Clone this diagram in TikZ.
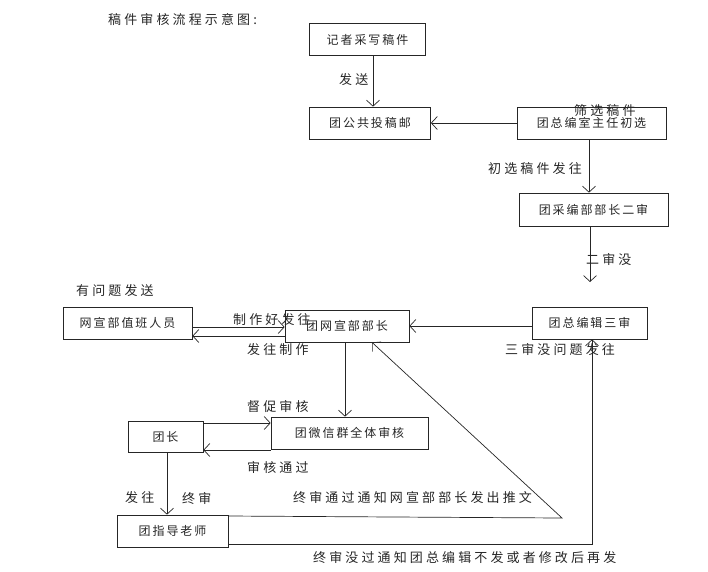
\documentclass[tikz,border=0pt]{standalone}
\usepackage{fontspec}
\newfontfamily\cjkbox[LetterSpace=16]{Noto Sans CJK SC}
\newfontfamily\cjklbl[LetterSpace=24]{Noto Sans CJK SC}
\usetikzlibrary{arrows.meta, positioning}
\def\boxfont{\cjkbox\fontsize{12}{14}\selectfont}
\def\lblfont{\cjklbl\fontsize{13}{15}\selectfont}

\tikzset{
  blk/.style={draw=black!85, line width=0.7pt, inner sep=0pt, text=black!85, font=\boxfont},
  lbl/.style={inner sep=0pt, anchor=west, text=black!85, font=\lblfont},
  arr/.style={-{Straight Barb[length=6pt,width=13pt]}, draw=black!85, line width=0.7pt},
  ln/.style={draw=black!85, line width=0.7pt},
}

\begin{document}
\begin{tikzpicture}[x=1pt, y=-1pt]
  \useasboundingbox (0,0) rectangle (708,571);
  % boxes
  \node[blk, minimum width=116pt, minimum height=32pt] (jizhe) at (367.5,39.5) {记者采写稿件};
  \node[blk, minimum width=121pt, minimum height=32pt] (tougao) at (370,123) {团公共投稿邮};
  \node[blk, minimum width=149pt, minimum height=32pt] (chuxuan) at (591.5,123) {\raisebox{-4pt}{团总编室主任初选}};
  \node[blk, minimum width=149pt, minimum height=33pt] (ershen) at (593.5,209.5) {团采编部部长二审};
  \node[blk, minimum width=129pt, minimum height=32pt] (zhiban) at (127.5,323) {网宣部值班人员};
  \node[blk, minimum width=124pt, minimum height=32pt] (buzhang) at (347,326) {团网宣部部长};
  \node[blk, minimum width=115pt, minimum height=32pt] (sanshen) at (589.5,323) {团总编辑三审};
  \node[blk, minimum width=157pt, minimum height=32pt] (weixin) at (349.5,433) {团微信群全体审核};
  \node[blk, minimum width=75pt, minimum height=31pt] (tuanzhang) at (165.5,436.5) {团长};
  \node[blk, minimum width=111pt, minimum height=32pt] (laoshi) at (172.5,531) {团指导老师};
  \coordinate (erout) at (590,282);
  \coordinate (tongguo) at (562,518);
  \coordinate (meiguo) at (592,544);

  % connectors
  \draw[arr] (373,0 |- jizhe.south) -- (373,0 |- tougao.north);
  \draw[arr] (chuxuan.west) -- (tougao.east);
  \draw[arr] (589,0 |- chuxuan.south) -- (589,0 |- ershen.north);
  \draw[arr] (590,0 |- ershen.south) -- (erout);
  \draw[arr] (sanshen.west |- 0,326) -- (buzhang.east |- 0,326);
  \draw[arr] (zhiban.east |- 0,327) -- (buzhang.west |- 0,327);
  \draw[arr] (buzhang.west |- 0,336) -- (zhiban.east |- 0,336);
  \draw[arr] (345,0 |- buzhang.south) -- (345,0 |- weixin.north);
  \draw[arr] (tuanzhang.east |- 0,423) -- (weixin.west |- 0,423);
  \draw[arr] (weixin.west |- 0,450) -- (tuanzhang.east |- 0,450);
  \draw[arr] (167,0 |- tuanzhang.south) -- (167,0 |- laoshi.north);
  \draw[arr] (laoshi.east |- 0,516) -- (tongguo) -- (372,0 |- buzhang.south);
  \draw[arr] (laoshi.east |- 0,544) -- (meiguo) -- (meiguo |- sanshen.south);

  % labels
  \node[lbl] (biaoti) at (108,20) {稿件审核流程示意图:};
  \node[lbl] (fasong) at (339,80) {发送};
  \node[lbl] (shaixuan) at (574,111) {筛选稿件};
  \node[lbl] (chufa) at (488,169) {初选稿件发往};
  \node[lbl] (ermei) at (586,260) {二审没};
  \node[lbl] (youwenti) at (76,291) {有问题发送};
  \node[lbl] (zhizuohao) at (233,320) {制作好发往};
  \node[lbl] (fazhizuo) at (247,350) {发往制作};
  \node[lbl] (sanmei) at (505,350) {三审没问题发往};
  \node[lbl] (duncu) at (247,407) {督促审核};
  \node[lbl] (shenhe) at (247,468) {审核通过};
  \node[lbl] (fawang) at (125,498) {发往};
  \node[lbl] (zhongshen) at (182,498) {终审};
  \node[lbl] (tongzhi) at (293,498) {终审通过通知网宣部部长发出推文};
  \node[lbl] (meiguotz) at (313,558) {终审没过通知团总编辑不发或者修改后再发};
\end{tikzpicture}
\end{document}
